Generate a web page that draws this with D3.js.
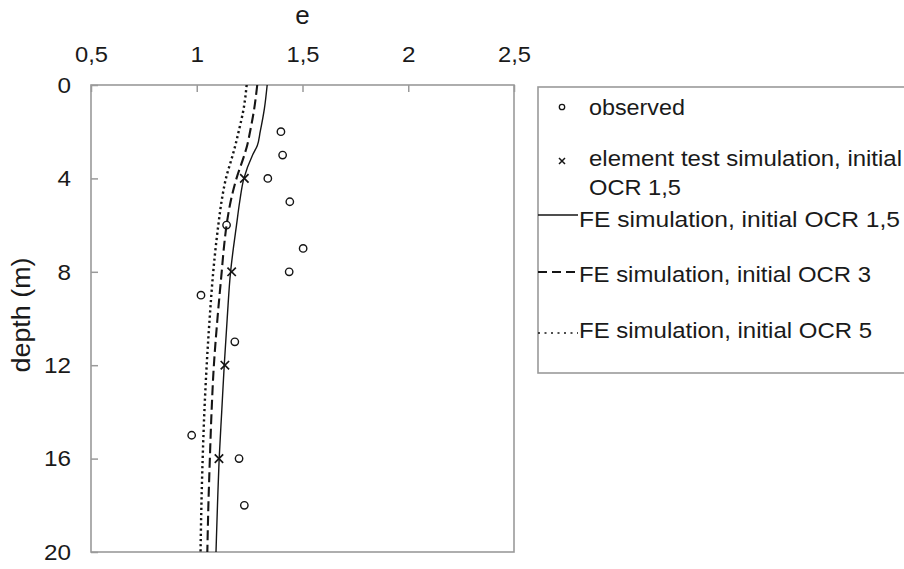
<!DOCTYPE html>
<html>
<head>
<meta charset="utf-8">
<script src="https://cdn.jsdelivr.net/npm/d3@7/dist/d3.min.js"></script>
<style>
  html, body { margin: 0; padding: 0; background: #fff; }
  svg { display: block; }
  text { font-family: "Liberation Sans", Arial, sans-serif; fill: #1a1a1a; }
</style>
</head>
<body>
<svg id="chart" width="904" height="569"></svg>
<script>
// Void ratio e versus depth
const xTicks = [0.5, 1, 1.5, 2, 2.5];
const yTicks = [0, 4, 8, 12, 16, 20];

// observed void ratios
const obsDepth = [2, 3, 4, 5, 6, 7, 8, 9, 11, 15, 16, 18];
const obsE     = [1.398, 1.406, 1.336, 1.44, 1.141, 1.503, 1.437, 1.02, 1.18, 0.976, 1.20, 1.225];

// element test simulation, initial OCR 1,5
const etDepth = [4, 8, 12, 16];
const etE     = [1.225, 1.165, 1.133, 1.105];

// FE simulation profiles
const feDepth  = [0, 1, 2, 2.6, 3, 4, 5, 6, 7, 8, 10, 12, 14, 16, 18, 20];
const feOcr15  = [1.333, 1.320, 1.300, 1.286, 1.264, 1.223, 1.203, 1.188, 1.173, 1.160, 1.144, 1.130, 1.118, 1.106, 1.098, 1.091];
const feOcr3   = [1.286, 1.272, 1.252, 1.238, 1.225, 1.188, 1.160, 1.141, 1.128, 1.118, 1.098, 1.081, 1.070, 1.062, 1.055, 1.050];
const feOcr5   = [1.236, 1.222, 1.198, 1.182, 1.170, 1.138, 1.117, 1.102, 1.089, 1.078, 1.061, 1.047, 1.036, 1.028, 1.022, 1.018];

const legendLabels = [
  ["observed"],
  ["element test simulation, initial", "OCR 1,5"],
  ["FE simulation, initial OCR 1,5"],
  ["FE simulation, initial OCR 3"],
  ["FE simulation, initial OCR 5"]
];

const svg = d3.select("#chart");
const pLeft = 91, pRight = 514, pTop = 85, pBottom = 552;

const x = d3.scaleLinear().domain([0.5, 2.5]).range([pLeft, pRight]);
const y = d3.scaleLinear().domain([0, 20]).range([pTop, pBottom]);

const fmt = d => String(d).replace(".", ",");
const frameColor = "#9a9a9a";
const ink = "#151515";

// x axis on top, ticks pointing into the plot
const xAxis = svg.append("g")
  .attr("transform", `translate(0,${pTop})`)
  .call(d3.axisTop(x).tickValues(xTicks).tickFormat(fmt).tickSizeInner(-7).tickSizeOuter(0).tickPadding(23));
xAxis.select(".domain").remove();
xAxis.selectAll("line").attr("stroke", frameColor).attr("stroke-width", 1.5);
xAxis.selectAll("text").attr("font-size", 22.5).attr("fill", ink)
  .attr("font-family", "Liberation Sans, Arial, sans-serif")
  .attr("textLength", d => String(d).length === 1 ? 13.5 : 33)
  .attr("lengthAdjust", "spacingAndGlyphs");

// y axis, ticks pointing into the plot
const yAxis = svg.append("g")
  .attr("transform", `translate(${pLeft},0)`)
  .call(d3.axisLeft(y).tickValues(yTicks).tickFormat(fmt).tickSizeInner(-7).tickSizeOuter(0).tickPadding(20));
yAxis.select(".domain").remove();
yAxis.selectAll("line").attr("stroke", frameColor).attr("stroke-width", 1.5);
yAxis.selectAll("text").attr("font-size", 22.5).attr("fill", ink)
  .attr("font-family", "Liberation Sans, Arial, sans-serif")
  .attr("textLength", d => String(d).length === 1 ? 13.5 : 27)
  .attr("lengthAdjust", "spacingAndGlyphs");

// plot frame
svg.append("rect")
  .attr("x", pLeft).attr("y", pTop)
  .attr("width", pRight - pLeft).attr("height", pBottom - pTop)
  .attr("fill", "none").attr("stroke", frameColor).attr("stroke-width", 1.6);

// axis titles
svg.append("text").attr("x", (pLeft + pRight) / 2).attr("y", 23.5)
  .attr("text-anchor", "middle").attr("font-size", 26).attr("fill", ink).text("e");
svg.append("text")
  .attr("transform", `translate(30,315) rotate(-90)`)
  .attr("text-anchor", "middle").attr("font-size", 25).attr("fill", ink)
  .attr("textLength", 115).attr("lengthAdjust", "spacingAndGlyphs")
  .text("depth (m)");

// FE profiles
const line = d3.line().curve(d3.curveMonotoneY);
const profiles = [
  { e: feOcr15, dash: null,      width: 1.4 },
  { e: feOcr3,  dash: "10,4.5",  width: 2.1 },
  { e: feOcr5,  dash: "2.2,3",   width: 2.4 }
];
profiles.forEach(p => {
  svg.append("path")
    .attr("d", line(feDepth.map((d, i) => [x(p.e[i]), y(d)])))
    .attr("fill", "none").attr("stroke", ink)
    .attr("stroke-width", p.width)
    .attr("stroke-dasharray", p.dash);
});

// observed points
svg.append("g").selectAll("circle")
  .data(obsDepth.map((d, i) => ({ d, e: obsE[i] })))
  .join("circle")
  .attr("cx", p => x(p.e)).attr("cy", p => y(p.d)).attr("r", 3.7)
  .attr("fill", "none").attr("stroke", ink).attr("stroke-width", 1.4);

// element test crosses
const cross = (g, cx, cy, s, w) => {
  g.append("path")
    .attr("d", `M${cx - s},${cy - s}L${cx + s},${cy + s}M${cx - s},${cy + s}L${cx + s},${cy - s}`)
    .attr("stroke", ink).attr("stroke-width", w).attr("fill", "none");
};
const crossG = svg.append("g");
etDepth.forEach((d, i) => cross(crossG, x(etE[i]), y(d), 4.2, 1.7));

// legend
const lg = svg.append("g");
lg.append("rect").attr("x", 538).attr("y", 87).attr("width", 400).attr("height", 286)
  .attr("fill", "none").attr("stroke", frameColor).attr("stroke-width", 1.6);

lg.append("circle").attr("cx", 562).attr("cy", 107).attr("r", 2.7)
  .attr("fill", "none").attr("stroke", ink).attr("stroke-width", 1.3);
cross(lg, 562, 161, 3, 1.5);
lg.append("line").attr("x1", 538).attr("x2", 578).attr("y1", 215).attr("y2", 215)
  .attr("stroke", ink).attr("stroke-width", 1.4);
lg.append("line").attr("x1", 538).attr("x2", 578).attr("y1", 272).attr("y2", 272)
  .attr("stroke", ink).attr("stroke-width", 2).attr("stroke-dasharray", "9,5");
lg.append("line").attr("x1", 538).attr("x2", 578).attr("y1", 333).attr("y2", 333)
  .attr("stroke", ink).attr("stroke-width", 1.7).attr("stroke-dasharray", "2,4.5");

// legend text positions and rendered widths
const legendX = [589, 589, 579, 579, 579];
const legendY = [[115], [166, 195], [227], [282], [338]];
const legendW = [[96], [313, 92], [321], [292], [293]];
legendLabels.forEach((lines, i) => {
  lines.forEach((t, j) => {
    lg.append("text").attr("x", legendX[i]).attr("y", legendY[i][j])
      .attr("font-size", 22.5).attr("fill", ink)
      .attr("textLength", legendW[i][j]).attr("lengthAdjust", "spacingAndGlyphs")
      .text(t);
  });
});
</script>
</body>
</html>
